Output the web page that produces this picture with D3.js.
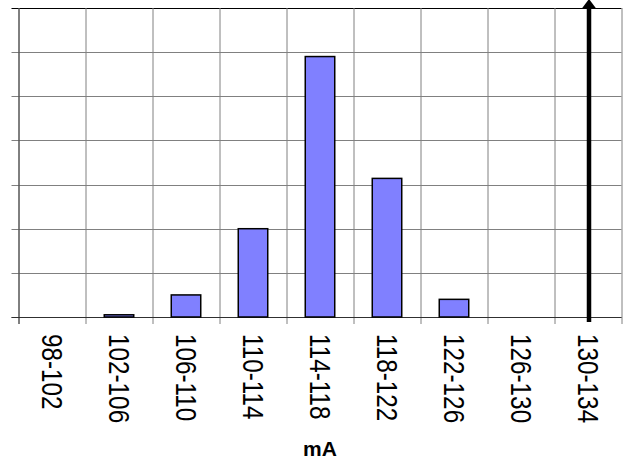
<!DOCTYPE html>
<html>
<head>
<meta charset="utf-8">
<script src="https://cdn.jsdelivr.net/npm/d3@7"></script>
<style>
  body { margin: 0; background: #fff; }
  svg { display: block; }
</style>
</head>
<body>
<div id="chart"></div>
<script>
// histogram bins (mA) and bar heights in gridline units
var bins = ["98-102", "102-106", "106-110", "110-114", "114-118", "118-122", "122-126", "126-130", "130-134"];
var counts = [0, 0.05, 0.5, 2.0, 5.9, 3.14, 0.4, 0, 0];
var yTicks = [0, 1, 2, 3, 4, 5, 6, 7];
var limitBin = ["130-134"];

var width = 630, height = 461;
var margin = {top: 8, right: 8.5, bottom: 144, left: 18.5};
var plotW = width - margin.left - margin.right;
var plotH = height - margin.top - margin.bottom;

var svg = d3.select("#chart").append("svg")
    .attr("width", width)
    .attr("height", height)
    .style("font-family", "'Liberation Sans', Arial, sans-serif");

var g = svg.append("g")
    .attr("transform", "translate(" + margin.left + "," + margin.top + ")");

var x = d3.scaleBand().domain(bins).range([0, plotW]).paddingInner(0.56).paddingOuter(0.28);
var xGrid = d3.scaleBand().domain(bins).range([0, plotW]);
var y = d3.scaleLinear().domain([0, 7]).range([plotH, 0]);

// horizontal gridlines + left ticks
g.selectAll(".hgrid").data(yTicks).enter().append("line")
    .attr("x1", -7).attr("x2", plotW)
    .attr("y1", function(d) { return Math.round(y(d)) + 0.5; })
    .attr("y2", function(d) { return Math.round(y(d)) + 0.5; })
    .attr("stroke", function(d) { return d == 7 ? "#000" : "#808080"; })
    .attr("stroke-width", 1);

// vertical gridlines + bottom ticks
var edges = bins.map(function(b) { return xGrid(b); }).concat([plotW]);
g.selectAll(".vgrid").data(edges).enter().append("line")
    .attr("x1", function(d) { return Math.round(d) + 0.5; })
    .attr("x2", function(d) { return Math.round(d) + 0.5; })
    .attr("y1", 0).attr("y2", plotH + 7)
    .attr("stroke", "#808080")
    .attr("stroke-width", 1);

// axis lines
g.append("line")
    .attr("x1", 0.5).attr("x2", 0.5)
    .attr("y1", 0).attr("y2", plotH + 7)
    .attr("stroke", "#404040");
g.append("line")
    .attr("x1", -7).attr("x2", plotW)
    .attr("y1", Math.round(plotH) + 0.5).attr("y2", Math.round(plotH) + 0.5)
    .attr("stroke", "#303030");

// bars
g.selectAll(".bar").data(counts).enter().append("rect")
    .attr("x", function(d, i) { return x(bins[i]); })
    .attr("width", x.bandwidth())
    .attr("y", function(d) { return y(d); })
    .attr("height", function(d) { return plotH - y(d); })
    .attr("fill", "#8080ff")
    .attr("stroke", "#000")
    .attr("stroke-width", 1.5)
    .style("display", function(d) { return d > 0 ? null : "none"; });

// limit arrow
var arrowX = function(d) { return xGrid(d) + xGrid.bandwidth() / 2 + 1; };
g.selectAll(".limit").data(limitBin).enter().append("line")
    .attr("x1", arrowX).attr("x2", arrowX)
    .attr("y1", plotH + 5).attr("y2", 0)
    .attr("stroke", "#000")
    .attr("stroke-width", 4.5);
g.selectAll(".head").data(limitBin).enter().append("path")
    .attr("d", function(d) {
        var cx = arrowX(d);
        return "M" + (cx - 7.5) + "," + 1 + "L" + cx + "," + (-9) + "L" + (cx + 7.5) + "," + 1 + "Z";
    })
    .attr("fill", "#000");

// category labels (rotated, glyphs a bit taller than wide as in the source)
g.selectAll(".lbl").data(bins).enter().append("text")
    .attr("transform", function(d) {
        return "translate(" + (xGrid(d) + xGrid.bandwidth() / 2) + "," + (plotH + 17) + ") rotate(90) scale(1,1.2)";
    })
    .attr("dy", "0.35em")
    .attr("font-size", 24.3)
    .attr("fill", "#000")
    .text(function(d) { return d; });

// axis title
svg.append("text")
    .attr("x", margin.left + plotW / 2)
    .attr("y", 456)
    .attr("text-anchor", "middle")
    .attr("font-size", 21)
    .attr("font-weight", "bold")
    .text("mA");
</script>
</body>
</html>
